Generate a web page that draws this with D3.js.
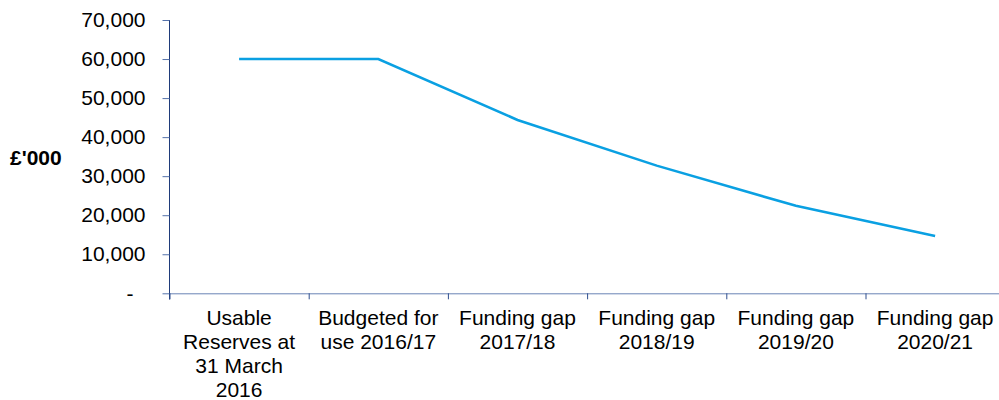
<!DOCTYPE html>
<html>
<head>
<meta charset="utf-8">
<script src="https://cdn.jsdelivr.net/npm/d3@7"></script>
<style>
  body { margin: 0; background: #fff; }
  svg { font-family: "Liberation Sans", Arial, sans-serif; }
</style>
</head>
<body>
<svg width="999" height="400"></svg>
<script>
// Chart data
const categories = [
  "Usable Reserves at 31 March 2016",
  "Budgeted for use 2016/17",
  "Funding gap 2017/18",
  "Funding gap 2018/19",
  "Funding gap 2019/20",
  "Funding gap 2020/21"
];
const reserves = [60000, 60000, 44400, 32700, 22400, 14700];
const yTicks = [0, 10000, 20000, 30000, 40000, 50000, 60000, 70000];
const yTitle = "£'000";

const svg = d3.select('svg');

// Scales: x by category index, ticks sit on the band edges
const x = d3.scaleLinear()
  .domain([0, categories.length])
  .range([169.5, 1004.7]);
const y = d3.scaleLinear()
  .domain([0, 70000])
  .range([293.3, 20]);

// Y axis
const yAxis = svg.append('g')
  .attr('transform', 'translate(169.5,0)')
  .call(d3.axisLeft(y)
    .tickValues(yTicks)
    .tickSize(7)
    .tickSizeOuter(0)
    .tickPadding(17)
    .tickFormat(d => d === 0 ? '-' : d3.format(',')(d)));
yAxis.select('.domain').attr('stroke', '#1f3b7a').attr('d', 'M0,20V299.5');
yAxis.selectAll('.tick line').attr('stroke', '#5572aa');
yAxis.selectAll('.tick text')
  .attr('font-size', 21)
  .attr('fill', '#000')
  .filter(d => d === 0)
  .attr('dx', -12);

// X axis
const xAxis = svg.append('g')
  .attr('transform', `translate(0,${y(0)})`)
  .call(d3.axisBottom(x)
    .tickValues(d3.range(0, categories.length + 1))
    .tickSize(6)
    .tickSizeOuter(0)
    .tickFormat(''));
xAxis.select('.domain').attr('stroke', '#6a83b6');
xAxis.selectAll('.tick line').attr('stroke', '#2f4f8f');

// Category labels, wrapped to fit each band
function wrap(text, width) {
  text.each(function () {
    const t = d3.select(this);
    const words = t.text().split(/\s+/);
    t.text(null);
    let line = [];
    let lineNo = 0;
    let tspan = t.append('tspan').attr('x', t.attr('x')).attr('dy', 0);
    words.forEach(w => {
      line.push(w);
      tspan.text(line.join(' '));
      if (tspan.node().getComputedTextLength() > width && line.length > 1) {
        line.pop();
        tspan.text(line.join(' '));
        line = [w];
        lineNo++;
        tspan = t.append('tspan').attr('x', t.attr('x')).attr('dy', 24).text(w);
      }
    });
  });
}

svg.append('g')
  .selectAll('text')
  .data(categories)
  .enter()
  .append('text')
  .attr('x', (d, i) => x(i + 0.5))
  .attr('y', 325)
  .attr('text-anchor', 'middle')
  .attr('font-size', 21)
  .attr('fill', '#000')
  .text(d => d)
  .call(wrap, 130);

// Y axis title
svg.append('text')
  .attr('x', 10)
  .attr('y', 165)
  .attr('font-size', 21)
  .attr('font-weight', 'bold')
  .text(yTitle);

// The line
const line = d3.line()
  .x((d, i) => x(i + 0.5))
  .y(d => y(d));

svg.append('path')
  .datum(reserves)
  .attr('d', line)
  .attr('fill', 'none')
  .attr('stroke', '#0aa0e2')
  .attr('stroke-width', 2.6);
</script>
</body>
</html>
